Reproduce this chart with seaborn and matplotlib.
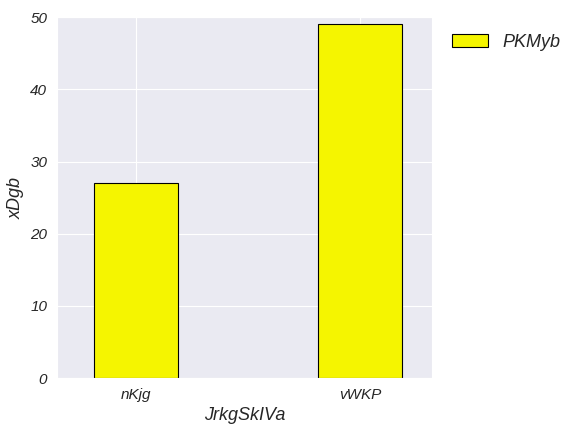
import matplotlib
matplotlib.use('Agg')
import matplotlib.pyplot as plt
import seaborn as sns
import pandas as pd

categories = ['nKjg', 'vWKP']
values = [27, 49]
series_name = 'PKMyb'

sns.set_style('darkgrid')
plt.rcParams['font.family'] = ['Liberation Sans', 'DejaVu Sans']
plt.rcParams['font.style'] = 'italic'

df = pd.DataFrame({'cat': categories, 'val': values, 'series': series_name})

fig = plt.figure(figsize=(5.76, 4.32), dpi=100)
ax = fig.add_axes([0.099, 0.125, 0.651, 0.835])
sns.barplot(data=df, x='cat', y='val', hue='series', palette=['#f5f500'],
            saturation=1, width=0.375, edgecolor='black', linewidth=0.8, ax=ax)
ax.set_axisbelow(True)
ax.grid(True, axis='both', color='white', linewidth=0.8)
ax.set_xlim(-0.35, 1.32)
ax.set_ylim(0, 50)
ax.set_xlabel('JrkgSkIVa', fontsize=13, style='italic')
ax.set_ylabel('xDgb', fontsize=13, style='italic')
ax.tick_params(labelsize=11)
ax.legend(loc='upper left', bbox_to_anchor=(1.01, 1.0), frameon=False, fontsize=13)
fig.savefig('out.png', dpi=100)
